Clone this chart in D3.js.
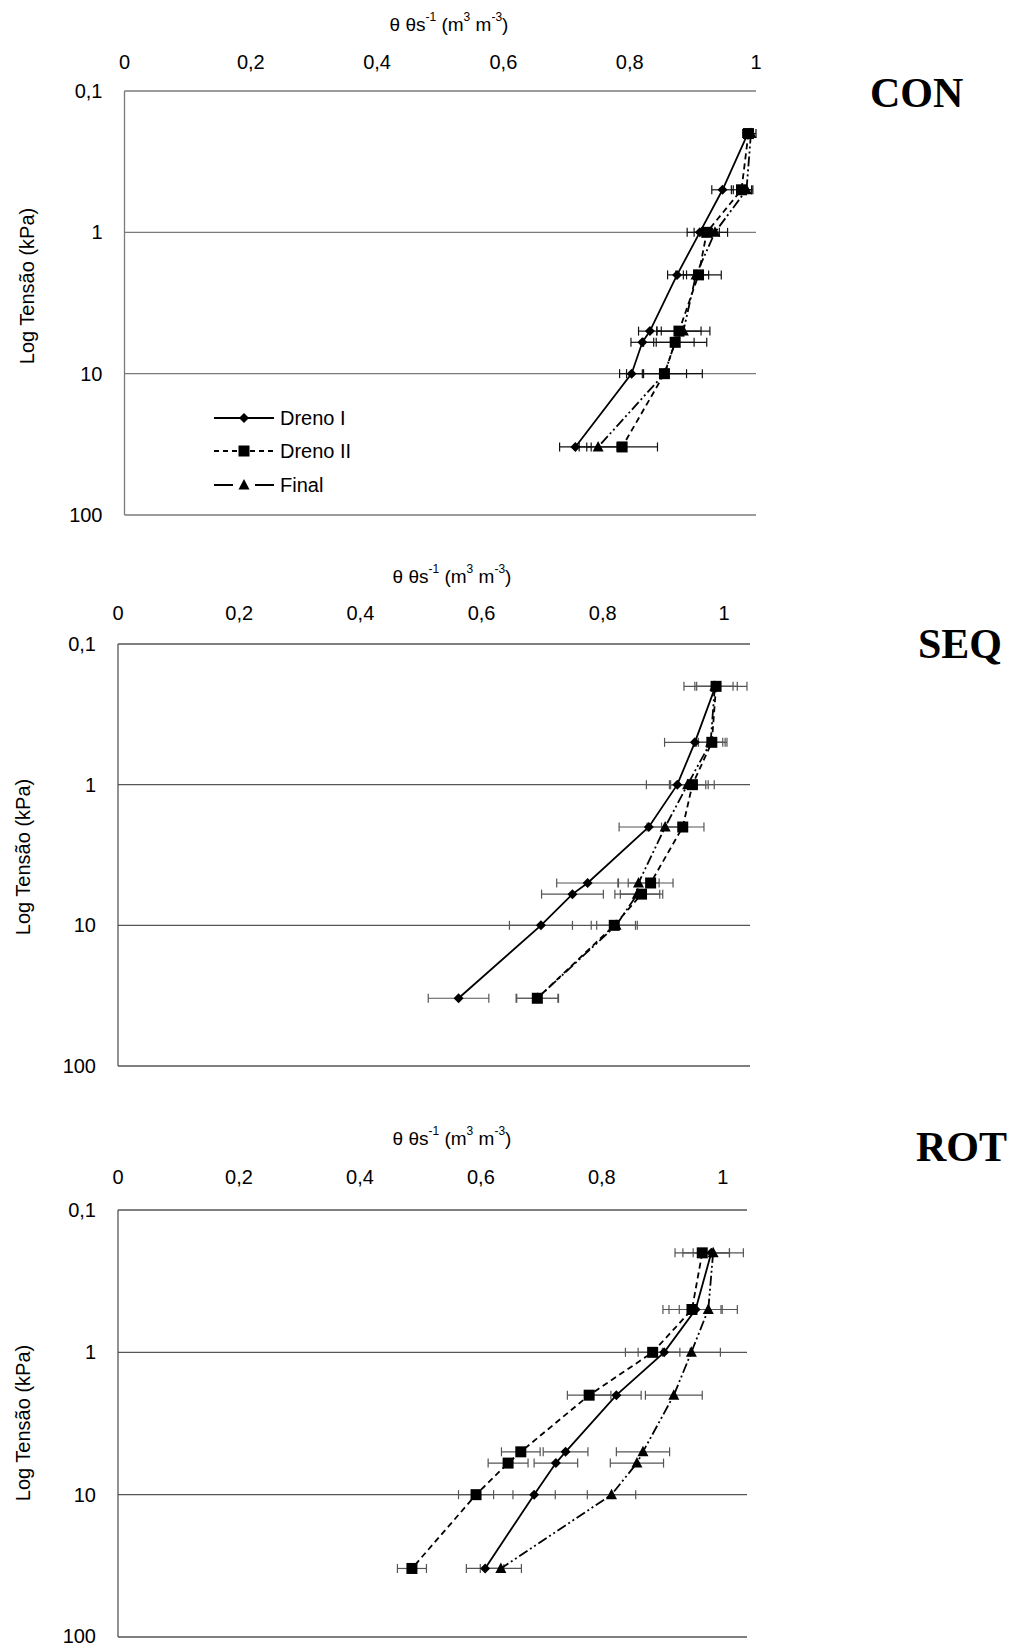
<!DOCTYPE html>
<html>
<head>
<meta charset="utf-8">
<script src="https://cdn.jsdelivr.net/npm/d3@7"></script>
<style>
  body { margin: 0; background: #fff; }
  text { font-family: "Liberation Sans", Arial, sans-serif; fill: #000; }
</style>
</head>
<body>
<div id="chart"></div>
<script>
// tension levels (kPa) shared by every curve
const tensions = [0.2, 0.5, 1, 2, 5, 6, 10, 33]
const xTicks = [0, 0.2, 0.4, 0.6, 0.8, 1]
const yTicks = [0.1, 1, 10, 100]
const seriesNames = ['Dreno I', 'Dreno II', 'Final']
const panelNames = ['CON', 'SEQ', 'ROT']

// relative water content θ/θs, mean and error half-width
const conDrenoI = [0.987, 0.947, 0.911, 0.875, 0.832, 0.820, 0.803, 0.714]
const conDrenoIErr = [0.008, 0.017, 0.020, 0.015, 0.018, 0.018, 0.019, 0.025]
const conDrenoII = [0.988, 0.977, 0.922, 0.909, 0.878, 0.872, 0.855, 0.788]
const conDrenoIIErr = [0.008, 0.016, 0.020, 0.036, 0.035, 0.030, 0.035, 0.056]
const conFinal = [0.992, 0.985, 0.935, 0.905, 0.885, 0.872, 0.855, 0.750]
const conFinalErr = [0.008, 0.010, 0.020, 0.020, 0.042, 0.050, 0.060, 0.030]

const seqDrenoI = [0.986, 0.952, 0.923, 0.876, 0.775, 0.750, 0.698, 0.562]
const seqDrenoIErr = [0.052, 0.050, 0.051, 0.049, 0.051, 0.051, 0.052, 0.050]
const seqDrenoII = [0.987, 0.980, 0.948, 0.932, 0.879, 0.864, 0.819, 0.692]
const seqDrenoIIErr = [0.035, 0.025, 0.036, 0.035, 0.037, 0.035, 0.038, 0.035]
const seqFinal = [0.985, 0.978, 0.940, 0.903, 0.859, 0.857, 0.822, 0.692]
const seqFinalErr = [0.030, 0.020, 0.030, 0.030, 0.034, 0.037, 0.032, 0.034]

const rotDrenoI = [0.981, 0.955, 0.903, 0.824, 0.740, 0.724, 0.688, 0.607]
const rotDrenoIErr = [0.030, 0.044, 0.043, 0.041, 0.037, 0.036, 0.035, 0.031]
const rotDrenoII = [0.966, 0.949, 0.884, 0.779, 0.666, 0.645, 0.592, 0.486]
const rotDrenoIIErr = [0.045, 0.048, 0.045, 0.036, 0.032, 0.033, 0.029, 0.024]
const rotFinal = [0.984, 0.976, 0.948, 0.919, 0.868, 0.858, 0.816, 0.633]
const rotFinalErr = [0.050, 0.048, 0.048, 0.047, 0.044, 0.044, 0.040, 0.034]

const W = 1011, H = 1649

const fmt = d3.formatLocale({decimal: ',', thousands: '.', grouping: [3], currency: ['', '']})
const fmtX = d => d === 0 || d === 1 ? String(d) : fmt.format('.1f')(d)
const fmtY = d => d < 1 ? fmt.format('.1f')(d) : String(d)

// line style + marker for each series
const styles = [
  {dash: null, legendDash: null, marker: 'diamond'},
  {dash: '6,4', legendDash: '5,4', marker: 'square'},
  {dash: '10,3,2,3,2,3', legendDash: '19,22', marker: 'triangle'},
]

function markerPath(type) {
  if (type === 'diamond') return 'M0,-5L5,0L0,5L-5,0Z'
  if (type === 'square') return 'M-5.5,-5.5H5.5V5.5H-5.5Z'
  return 'M0,-6L5.5,4.5H-5.5Z'
}

// frame geometry of each of the three stacked charts
const layouts = [
  {xMax: 1, left: 124.5, right: 756, top: 91, bottom: 515, titleX: 449, titleY: 24, tickY: 62,
    yTitleX: 27, yTitleY: 286, labelX: 870, labelY: 107, grid: '#7a7a7a', err: '#111', legend: true},
  {xMax: 1.043, left: 118, right: 750, top: 644, bottom: 1066, titleX: 452, titleY: 576, tickY: 613,
    yTitleX: 23, yTitleY: 857, labelX: 918, labelY: 658, grid: '#555', err: '#555', legend: false},
  {xMax: 1.04, left: 118, right: 747, top: 1210, bottom: 1637, titleX: 452, titleY: 1138, tickY: 1177,
    yTitleX: 23, yTitleY: 1423, labelX: 916, labelY: 1161, grid: '#555', err: '#555', legend: false},
]

const panelData = [
  [[conDrenoI, conDrenoIErr], [conDrenoII, conDrenoIIErr], [conFinal, conFinalErr]],
  [[seqDrenoI, seqDrenoIErr], [seqDrenoII, seqDrenoIIErr], [seqFinal, seqFinalErr]],
  [[rotDrenoI, rotDrenoIErr], [rotDrenoII, rotDrenoIIErr], [rotFinal, rotFinalErr]],
]

const svg = d3.select('#chart').append('svg')
  .attr('width', W).attr('height', H)

panelNames.forEach((name, p) => {
  const L = layouts[p]
  const g = svg.append('g')

  const x = d3.scaleLinear().domain([0, L.xMax]).range([L.left, L.right])
  const y = d3.scaleLog().domain([0.1, 100]).range([L.top, L.bottom])

  // horizontal gridlines at each decade
  g.selectAll('line.grid').data(yTicks).enter().append('line')
    .attr('x1', L.left).attr('x2', L.right)
    .attr('y1', d => y(d)).attr('y2', d => y(d))
    .attr('stroke', L.grid).attr('stroke-width', 1.3)
  g.append('line')
    .attr('x1', L.left).attr('x2', L.left)
    .attr('y1', L.top).attr('y2', L.bottom)
    .attr('stroke', L.grid).attr('stroke-width', 1.3)

  // axis labels
  g.selectAll('text.xt').data(xTicks).enter().append('text')
    .attr('x', d => x(d)).attr('y', L.tickY)
    .attr('text-anchor', 'middle').attr('dominant-baseline', 'central')
    .style('font-size', '20px')
    .text(fmtX)
  g.selectAll('text.yt').data(yTicks).enter().append('text')
    .attr('x', L.left - 22).attr('y', d => Math.min(y(d), H - 13))
    .attr('text-anchor', 'end').attr('dominant-baseline', 'central')
    .style('font-size', '20px')
    .text(fmtY)

  const t = g.append('text')
    .attr('x', L.titleX).attr('y', L.titleY)
    .attr('text-anchor', 'middle').attr('dominant-baseline', 'central')
    .style('font-size', '19px')
  t.append('tspan').text('θ θs')
  t.append('tspan').attr('dy', -7).style('font-size', '12px').text('-1')
  t.append('tspan').attr('dy', 7).text(' (m')
  t.append('tspan').attr('dy', -7).style('font-size', '12px').text('3')
  t.append('tspan').attr('dy', 7).text(' m')
  t.append('tspan').attr('dy', -7).style('font-size', '12px').text('-3')
  t.append('tspan').attr('dy', 7).text(')')

  g.append('text')
    .attr('transform', `translate(${L.yTitleX},${L.yTitleY}) rotate(-90)`)
    .attr('text-anchor', 'middle').attr('dominant-baseline', 'central')
    .style('font-size', '20px')
    .text('Log Tensão (kPa)')

  g.append('text')
    .attr('x', L.labelX).attr('y', L.labelY)
    .style('font-family', '"Liberation Serif", "Times New Roman", serif')
    .style('font-weight', 'bold').style('font-size', '42px')
    .text(name)

  // error bars first, then lines, then markers on top
  panelData[p].forEach(([vals, errs], s) => {
    const eg = g.append('g').attr('stroke', L.err).attr('stroke-width', 1.2)
    tensions.forEach((tv, i) => {
      const yy = y(tv)
      const xa = x(vals[i] - errs[i]), xb = x(vals[i] + errs[i])
      eg.append('line').attr('x1', xa).attr('x2', xb).attr('y1', yy).attr('y2', yy)
      eg.append('line').attr('x1', xa).attr('x2', xa).attr('y1', yy - 4.5).attr('y2', yy + 4.5)
      eg.append('line').attr('x1', xb).attr('x2', xb).attr('y1', yy - 4.5).attr('y2', yy + 4.5)
    })
  })

  panelData[p].forEach(([vals], s) => {
    const line = d3.line().x((d, i) => x(d)).y((d, i) => y(tensions[i]))
    g.append('path')
      .attr('d', line(vals))
      .attr('fill', 'none').attr('stroke', '#000').attr('stroke-width', 1.8)
      .attr('stroke-dasharray', styles[s].dash)
    g.selectAll(null).data(vals).enter().append('path')
      .attr('d', markerPath(styles[s].marker))
      .attr('transform', (d, i) => `translate(${x(d)},${y(tensions[i])})`)
      .attr('fill', '#000')
  })

  if (L.legend) {
    const lg = g.append('g')
    const rows = [418, 451, 485]
    seriesNames.forEach((sn, s) => {
      lg.append('line')
        .attr('x1', 214).attr('x2', 274).attr('y1', rows[s]).attr('y2', rows[s])
        .attr('stroke', '#000').attr('stroke-width', 1.8)
        .attr('stroke-dasharray', styles[s].legendDash)
      lg.append('path')
        .attr('d', markerPath(styles[s].marker))
        .attr('transform', `translate(244,${rows[s]})`)
        .attr('fill', '#000')
      lg.append('text')
        .attr('x', 280).attr('y', rows[s])
        .attr('dominant-baseline', 'central')
        .style('font-size', '20px')
        .text(sn)
    })
  }
})
</script>
</body>
</html>
